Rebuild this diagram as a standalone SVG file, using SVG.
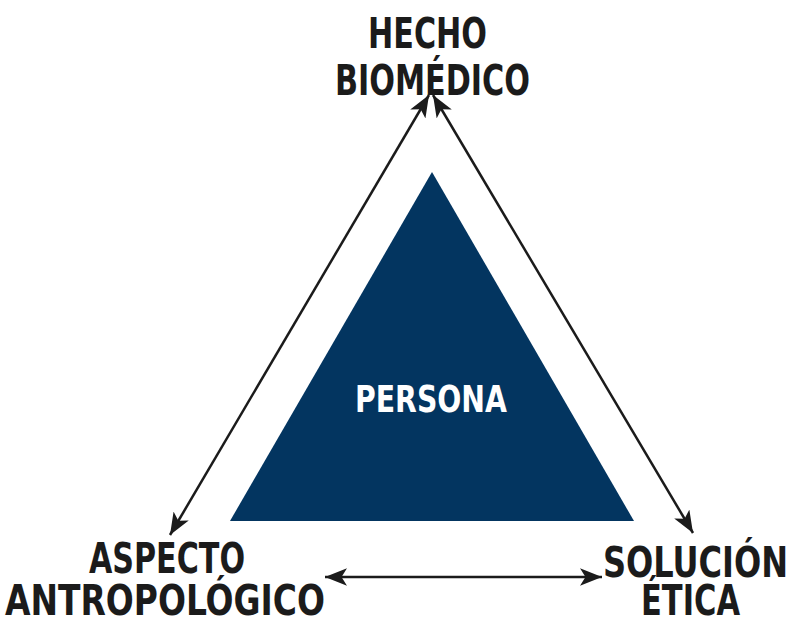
<svg xmlns="http://www.w3.org/2000/svg" width="790" height="619" viewBox="0 0 790 619">
<style>
.lbl{font-family:"DejaVu Sans Condensed","Liberation Sans Narrow","Liberation Sans",sans-serif;font-weight:bold;font-size:42px;fill:#1b1b1b}
.in{font-family:"DejaVu Sans Condensed","Liberation Sans Narrow","Liberation Sans",sans-serif;font-weight:bold;font-size:38px;fill:#ffffff}
.con{stroke:#1b1b1b;stroke-width:2.5;fill:none;marker-start:url(#ah);marker-end:url(#ah)}
</style>
<defs>
<marker id="ah" markerUnits="userSpaceOnUse" viewBox="0 0 20 16" refX="20" refY="8" markerWidth="22" markerHeight="17.6" orient="auto-start-reverse">
<path d="M0,0 L20,8 L0,16 L5,8 Z" fill="#1b1b1b"/>
</marker>
</defs>
<rect width="790" height="619" fill="#ffffff"/>
<g id="persona">
<polygon points="432,172 230,521 634,521" fill="#033560"/>
<text class="in" x="355" y="412" textLength="152" lengthAdjust="spacingAndGlyphs">PERSONA</text>
</g>
<g id="connectors">
<line class="con" x1="429" y1="95" x2="170" y2="535"/>
<line class="con" x1="433" y1="95" x2="693" y2="533"/>
<line class="con" x1="325" y1="577" x2="602" y2="577"/>
</g>
<g id="hecho">
<text class="lbl" x="368" y="48" textLength="119" lengthAdjust="spacingAndGlyphs">HECHO</text>
<text class="lbl" x="335" y="95" textLength="195" lengthAdjust="spacingAndGlyphs">BIOMÉDICO</text>
</g>
<g id="aspecto">
<text class="lbl" x="89" y="573" textLength="156" lengthAdjust="spacingAndGlyphs">ASPECTO</text>
<text class="lbl" x="5" y="615" textLength="320" lengthAdjust="spacingAndGlyphs">ANTROPOLÓGICO</text>
</g>
<g id="solucion">
<text class="lbl" x="603" y="577" textLength="185" lengthAdjust="spacingAndGlyphs">SOLUCIÓN</text>
<text class="lbl" x="641" y="615" textLength="99" lengthAdjust="spacingAndGlyphs">ÉTICA</text>
</g>
</svg>
